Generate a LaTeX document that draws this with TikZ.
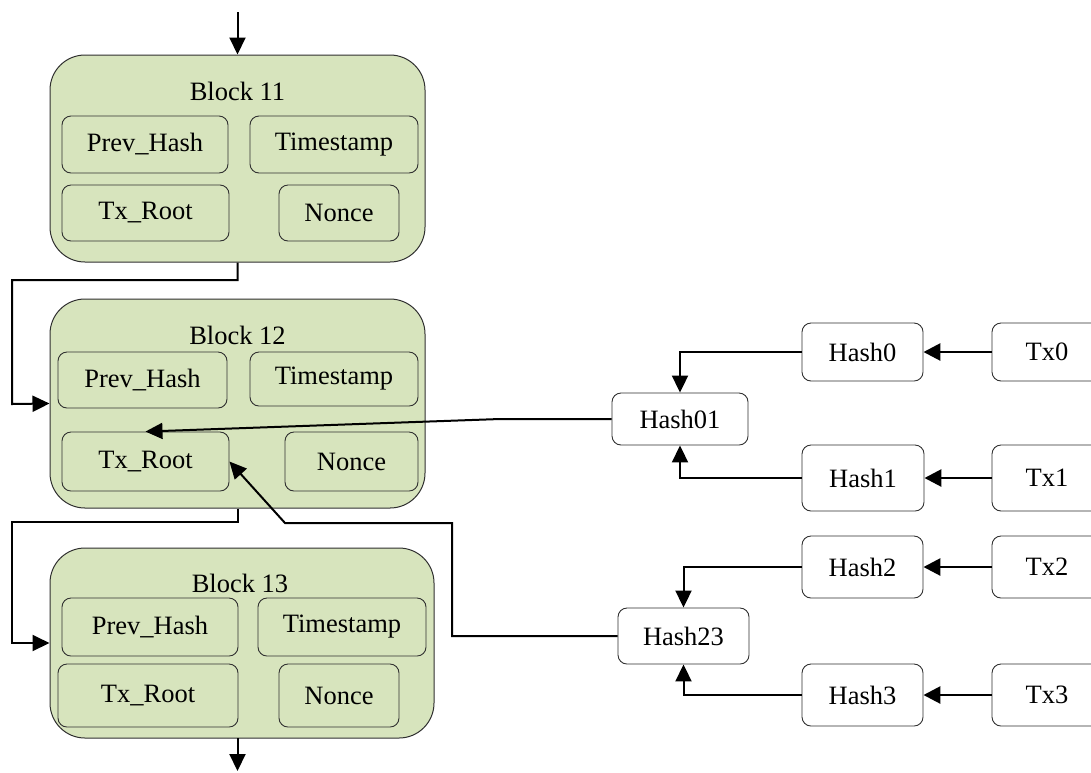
\documentclass[tikz,border=0pt]{standalone}
\usepackage{fontspec}
\setmainfont{Liberation Serif}
\usetikzlibrary{arrows.meta}
\definecolor{blockfill}{HTML}{D7E4BD}
\definecolor{edge}{HTML}{303030}
\begin{document}
\begin{tikzpicture}[x=1pt,y=-1pt,
  font=\fontsize{26.5}{30}\selectfont,
  blockbox/.style={draw=edge,line width=1pt,fill=blockfill,rounded corners=35pt,inner sep=0pt},
  fieldbox/.style={draw=edge,line width=0.9pt,rounded corners=9pt,inner sep=0pt},
  hashbox/.style={draw=edge,line width=0.9pt,fill=white,rounded corners=9pt,inner sep=0pt},
  lbl/.style={inner sep=0pt},
  conn/.style={line width=2.8pt,-{Triangle[length=17pt,width=17pt]}},
  thinconn/.style={line width=2pt,-{Triangle[length=17pt,width=16pt]}}
]
\clip (0,0) rectangle (1091,772);
\fill[white] (0,0) rectangle (1091,772);

% blocks
\node[blockbox,minimum width=375pt,minimum height=207pt] (b11) at (237.5,158.5) {};
\node[lbl] (l11) at (237.5,91) {Block 11};
\node[fieldbox,minimum width=166pt,minimum height=57pt] (ph11) at (145,144.5) {Prev\_Hash};
\node[fieldbox,minimum width=168pt,minimum height=57pt] (ts11) at (334,144.5) {Timestamp};
\node[fieldbox,minimum width=167pt,minimum height=56pt] (tx11) at (145.5,213) {Tx\_Root};
\node[fieldbox,minimum width=120pt,minimum height=56pt] (no11) at (339,213) {Nonce};

\node[blockbox,minimum width=375pt,minimum height=209pt] (b12) at (237.5,403.5) {};
\node[lbl] (l12) at (237.5,335) {Block 12};
\node[fieldbox,minimum width=169pt,minimum height=56pt] (ph12) at (142.5,380) {Prev\_Hash};
\node[fieldbox,minimum width=168pt,minimum height=54pt] (ts12) at (334,379) {Timestamp};
\node[fieldbox,minimum width=167pt,minimum height=59pt] (tx12) at (145.5,461.5) {Tx\_Root};
\node[fieldbox,minimum width=133pt,minimum height=59pt] (no12) at (351.5,461.5) {Nonce};

\node[blockbox,minimum width=384pt,minimum height=190pt] (b13) at (242,643) {};
\node[lbl] (l13) at (240,583) {Block 13};
\node[fieldbox,minimum width=176pt,minimum height=58pt] (ph13) at (150,627) {Prev\_Hash};
\node[fieldbox,minimum width=168pt,minimum height=58pt] (ts13) at (342,627) {Timestamp};
\node[fieldbox,minimum width=180pt,minimum height=63pt] (tx13) at (148,695.5) {Tx\_Root};
\node[fieldbox,minimum width=120pt,minimum height=63pt] (no13) at (339,695.5) {Nonce};

% merkle tree
\node[hashbox,minimum width=136pt,minimum height=52pt] (h01) at (680,419) {Hash01};
\node[hashbox,minimum width=131pt,minimum height=56pt] (h23) at (683.5,636) {Hash23};
\node[hashbox,minimum width=121pt,minimum height=58pt] (h0) at (862.5,352) {Hash0};
\node[hashbox,minimum width=122pt,minimum height=66pt] (h1) at (863,478) {Hash1};
\node[hashbox,minimum width=121pt,minimum height=62pt] (h2) at (862.5,567) {Hash2};
\node[hashbox,minimum width=121pt,minimum height=62pt] (h3) at (862.5,695) {Hash3};
\node[hashbox,minimum width=110pt,minimum height=58pt] (t0) at (1047,352) {Tx0};
\node[hashbox,minimum width=110pt,minimum height=66pt] (t1) at (1047,478) {Tx1};
\node[hashbox,minimum width=110pt,minimum height=62pt] (t2) at (1047,567) {Tx2};
\node[hashbox,minimum width=110pt,minimum height=62pt] (t3) at (1047,695) {Tx3};

% chain connectors
\coordinate (top) at (237.5,12);
\coordinate (bot) at (237.5,771);
\draw[thinconn] (top) -- (b11.north);
\draw[thinconn] (b11.south) -- (237.5,280) -- (12,280) -- (12,404) -- (b12.west);
\draw[thinconn] (b12.south) -- (237.5,522) -- (12,522) -- (12,643) -- (b13.west);
\draw[thinconn] (237.5,738) -- (bot);

% root connectors
\draw[thinconn] (h01.west) -- (500,419) -- (tx12.north);
\draw[thinconn] (h23.west) -- (452,636) -- (452,523) -- (285,523) -- (tx12.east);

% tree connectors
\draw[thinconn] (h0.west) -| (h01.north);
\draw[thinconn] (h1.west) -| (h01.south);
\draw[thinconn] (h2.west) -| (h23.north);
\draw[thinconn] (h3.west) -| (h23.south);
\draw[conn] (t0.west) -- (h0.east);
\draw[conn] (t1.west) -- (h1.east);
\draw[conn] (t2.west) -- (h2.east);
\draw[conn] (t3.west) -- (h3.east);
\end{tikzpicture}
\end{document}
